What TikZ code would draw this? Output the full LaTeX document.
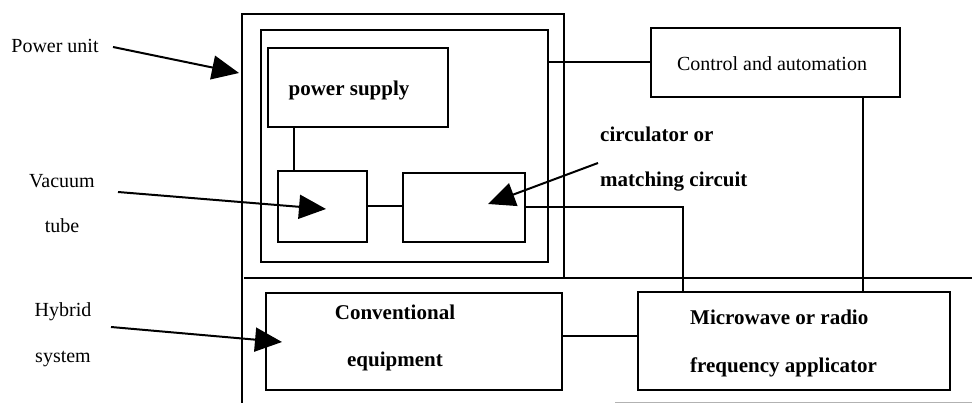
\documentclass[tikz,border=0pt]{standalone}
\usepackage{fontspec}
\setmainfont{Liberation Serif}
\usetikzlibrary{arrows.meta,calc}
\begin{document}
\begin{tikzpicture}[x=1pt,y=-1pt,
  line/.style={line width=2pt,line cap=rect},
  box/.style={draw,line width=2pt,rectangle,inner sep=0pt},
  lbl/.style={font=\fontsize{20}{24}\selectfont,inner sep=0pt},
  blbl/.style={font=\fontsize{21}{25}\selectfont\bfseries,inner sep=0pt},
  pointer/.style={line width=2pt,-{Triangle[length=27pt,width=24pt]}}]
\useasboundingbox (0,0) rectangle (972,403);
% outer frame of the power unit
\coordinate (oTL) at (242,14);
\coordinate (oTR) at (564,14);
\coordinate (oBL) at (242,403);
\coordinate (oR) at (564,278);
\coordinate (hL) at (245,278);
\coordinate (hR) at (972,278);
\draw[line] (oBL) -- (oTL) -- (oTR) -- (oR);
\draw[line] (hL) -- (hR);
% boxes
\node[box,minimum width=287pt,minimum height=232pt] (inner) at (404.5,146) {};
\node[box,minimum width=180pt,minimum height=79pt] (ps) at (358,87.5) {};
\node[blbl] (pst) at (349,90) {power supply};
\node[box,minimum width=89pt,minimum height=71pt] (vt) at (322.5,206.5) {};
\node[box,minimum width=122pt,minimum height=69pt] (cb) at (464,207.5) {};
\node[box,minimum width=249pt,minimum height=69pt] (ctrl) at (775.5,62.5) {};
\node[lbl] (ctrlt) at (772,64) {Control and automation};
\node[box,minimum width=296pt,minimum height=97pt] (conv) at (414,341.5) {};
\node[blbl] (conv1) at (395,312) {Conventional};
\node[blbl] (conv2) at (395,361) {equipment};
\node[box,minimum width=312pt,minimum height=98pt] (mw) at (794,341) {};
\node[blbl,anchor=west] (mw1) at (690,317) {Microwave or radio};
\node[blbl,anchor=west] (mw2) at (690,367) {frequency applicator};
% connectors
\coordinate (c1) at (294,0);
\coordinate (c2) at (683,0);
\coordinate (c3) at (863,0);
\draw[line] (ps.south -| c1) -- (vt.north -| c1);
\draw[line] (vt.east) -- (vt.east -| cb.west);
\draw[line] (cb.east) -| (mw.north -| c2);
\draw[line] (inner.east |- ctrl.west) -- (ctrl.west);
\draw[line] (ctrl.south -| c3) -- (mw.north -| c3);
\draw[line] ($(conv.east)+(0,-5)$) -- ($(conv.east -| mw.west)+(0,-5)$);
% labels with pointers
\node[lbl] (pu) at (55,46) {Power unit};
\coordinate (puS) at (113,47);
\coordinate (puT) at (239,73);
\draw[pointer] (puS) -- (puT);
\node[lbl] (vac1) at (62,181) {Vacuum};
\node[lbl] (vac2) at (62,226) {tube};
\coordinate (vaS) at (118,192);
\coordinate (vaT) at (326,209);
\draw[pointer] (vaS) -- (vaT);
\node[lbl] (hy1) at (63,312) {Hybrid};
\node[lbl] (hy2) at (63,359) {system};
\coordinate (hyS) at (111,327);
\coordinate (hyT) at (282,342);
\draw[pointer] (hyS) -- (hyT);
\node[blbl,anchor=west] (ci1) at (600,134) {circulator or};
\node[blbl,anchor=west] (ci2) at (600,182) {matching circuit};
\coordinate (ciS) at (598,163);
\coordinate (ciT) at (488,204);
\draw[pointer] (ciS) -- (ciT);
% faint bottom rule
\coordinate (gL) at (615,402);
\coordinate (gR) at (972,402);
\draw[gray!60,line width=1pt] (gL) -- (gR);
\end{tikzpicture}
\end{document}
